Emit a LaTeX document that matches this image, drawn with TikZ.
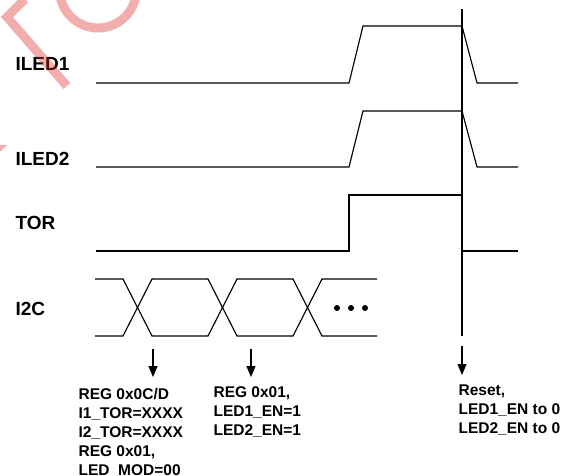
\documentclass[tikz,border=0pt]{standalone}
\usepackage{fontspec}
\setmainfont{Liberation Sans}
\usetikzlibrary{arrows.meta}
\definecolor{wmred}{RGB}{220,40,40}

\begin{document}
\begin{tikzpicture}[x=1pt, y=-1pt, line width=1.15pt, >={Triangle[length=11pt,width=9pt]},
    siglabel/.style={anchor=base west, inner sep=0pt, font=\fontsize{19}{22}\selectfont\bfseries},
    note/.style={anchor=north west, inner sep=0pt, align=left, font=\fontsize{15.5}{19}\selectfont\bfseries},
    wave/.style={line join=miter},
    wmark/.style={draw=wmred, line width=9pt, opacity=0.38}]
    \useasboundingbox (0,0) rectangle (570,475);

    % signal names
    \node (iled1) [siglabel] at (15,70) {ILED1};
    \node (iled2) [siglabel] at (15,165) {ILED2};
    \node (tor) [siglabel] at (15,229) {TOR};
    \node (i2c) [siglabel] at (15,315) {I2C};

    % waveforms
    \draw [wave] (96,83) -- (349,83) -- (363,26) -- (462,26) -- (477,83) -- (518,83);
    \draw [wave] (96,167) -- (349,167) -- (363,111) -- (462,111) -- (477,167) -- (518,167);
    \draw [wave] (96,251) -- (349,251) -- (349,195) -- (462,195) -- (462,251) -- (518,251);
    \draw [wave] (95,279) -- (123,279) -- (152,336) -- (208,336) -- (237,279) -- (293,279) -- (322,336) -- (377,336);
    \draw [wave] (95,336) -- (123,336) -- (152,279) -- (208,279) -- (237,336) -- (293,336) -- (322,279) -- (377,279);
    \foreach \x in {337,351,365}
        \fill (\x,308) circle (3pt);

    % reset marker
    \coordinate (marktop) at (462,9);
    \coordinate (markbot) at (462,336);
    \draw (marktop) -- (markbot);

    % arrows and notes
    \coordinate (regfrom) at (153,349);
    \coordinate (regto) at (153,377);
    \coordinate (enfrom) at (251,349);
    \coordinate (ento) at (251,377);
    \coordinate (resetfrom) at (462,346);
    \coordinate (resetto) at (462,375);
    \draw [->] (regfrom) -- (regto);
    \draw [->] (enfrom) -- (ento);
    \draw [->] (resetfrom) -- (resetto);

    \node (regnote) [note] at (78,388) {REG 0x0C/D\\I1\_TOR=XXXX\\I2\_TOR=XXXX\\REG 0x01,\\LED\_MOD=00};
    \node (ennote) [note] at (213,386) {REG 0x01,\\LED1\_EN=1\\LED2\_EN=1};
    \node (resetnote) [note] at (458,384) {Reset,\\LED1\_EN to 0\\LED2\_EN to 0};

    % watermark
    \begin{scope}
        \clip (0,0) rectangle (570,475);
        \draw [wmark] (98,-10.4) circle (38.4);
        \draw [wmark, line join=miter] (25,-1) -- (7,17) -- (67,86);
        \fill [wmred, opacity=0.38] (0,145) -- (7.3,145) -- (0,151.7) -- cycle;
    \end{scope}
\end{tikzpicture}
\end{document}
